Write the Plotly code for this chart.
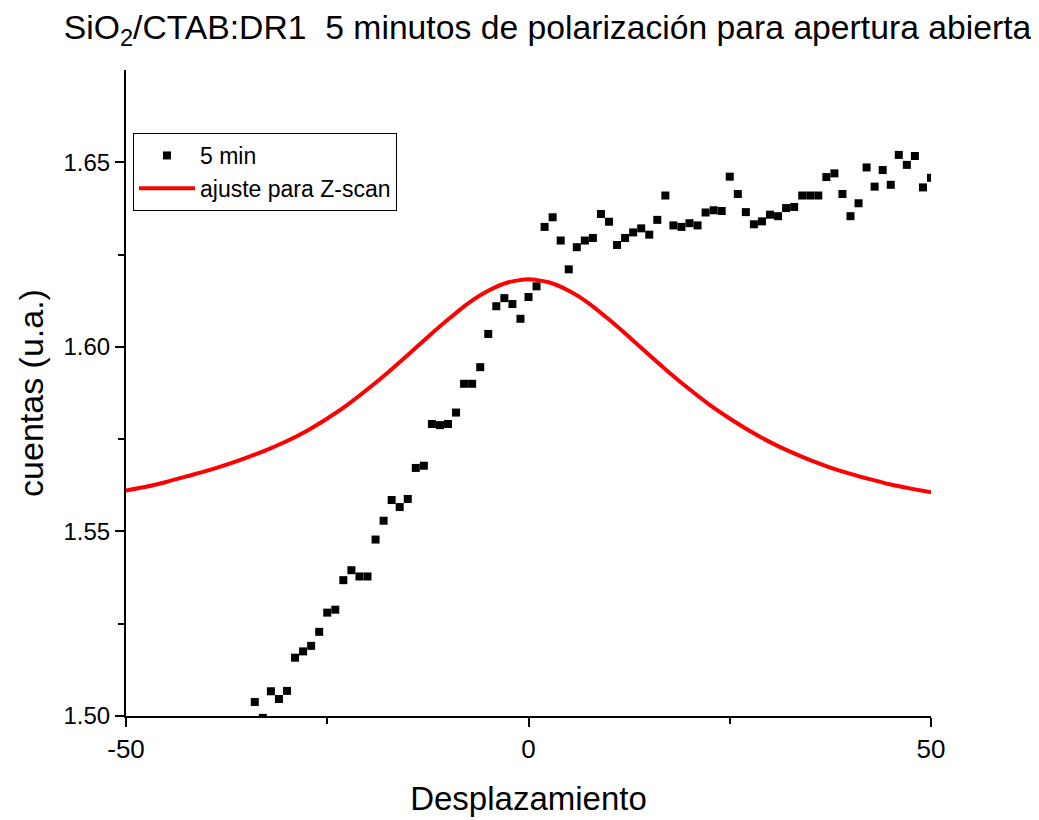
import plotly.graph_objects as go

# Measured data: 5 min
x_data = list(range(-34, 51))
y_data = [
    1.5038, 1.4995, 1.5067, 1.5046, 1.5068, 1.5158, 1.5175, 1.5190, 1.5228, 1.5280,
    1.5288, 1.5368, 1.5395, 1.5378, 1.5378, 1.5478, 1.5529, 1.5585, 1.5566, 1.5588,
    1.5672, 1.5678, 1.5791, 1.5788, 1.5791, 1.5822, 1.5900, 1.5900, 1.5945, 1.6035,
    1.6110, 1.6132, 1.6116, 1.6076, 1.6135, 1.6164, 1.6325, 1.6351, 1.6288, 1.6210,
    1.6270, 1.6288, 1.6295, 1.6360, 1.6339, 1.6276, 1.6295, 1.6310, 1.6321, 1.6304,
    1.6344, 1.6410, 1.6329, 1.6325, 1.6335, 1.6329, 1.6364, 1.6370, 1.6368, 1.6461,
    1.6414, 1.6365, 1.6332, 1.6340, 1.6358, 1.6354, 1.6376, 1.6379, 1.6410, 1.6410,
    1.6410, 1.6460, 1.6470, 1.6414, 1.6354, 1.6389, 1.6486, 1.6434, 1.6479, 1.6439,
    1.6520, 1.6493, 1.6517, 1.6432, 1.6458,
]

# Fit curve
x_fit = [-50, -47.5, -45, -42.5, -40, -37.5, -35, -32.5, -30, -27.5, -25, -22.5, -20,
         -17.5, -15, -12.5, -10, -7.5, -5, -2.5, 0, 2.5, 5, 7.5, 10, 12.5, 15, 17.5,
         20, 22.5, 25, 27.5, 30, 32.5, 35, 37.5, 40, 42.5, 45, 47.5, 50]
y_fit = [1.5611, 1.5621, 1.5634, 1.5649, 1.5664, 1.5681, 1.5700, 1.5721, 1.5745, 1.5773,
         1.5806, 1.5843, 1.5885, 1.5930, 1.5978, 1.6027, 1.6074, 1.6118, 1.6152, 1.6175,
         1.6183, 1.6175, 1.6152, 1.6118, 1.6074, 1.6027, 1.5978, 1.5930, 1.5885, 1.5843,
         1.5806, 1.5772, 1.5742, 1.5716, 1.5693, 1.5673, 1.5656, 1.5641, 1.5627, 1.5616,
         1.5606]

x_ticks = [-50, 0, 50]
y_ticks = [1.50, 1.55, 1.60, 1.65]

font_family = "Liberation Sans, Arial, sans-serif"

fig = go.Figure()
fig.add_trace(go.Scatter(
    x=x_data, y=y_data, mode="markers", name="5 min",
    marker=dict(symbol="square", size=8, color="black", line=dict(width=0)),
    cliponaxis=True,
))
fig.add_trace(go.Scatter(
    x=x_fit, y=y_fit, mode="lines", name="ajuste para Z-scan",
    line=dict(color="#ff0000", width=4, shape="spline", smoothing=0.6),
))

W, H = 1039, 820
L, T = 118, 62
pw, ph = 805, 646
R, B = W - L - pw, H - T - ph

fig.update_layout(
    width=W, height=H,
    paper_bgcolor="white", plot_bgcolor="white",
    margin=dict(l=L, r=R, t=T, b=B, autoexpand=False),
    font=dict(family=font_family, color="black"),
    title=dict(
        text="SiO<sub>2</sub>/CTAB:DR1  5 minutos de polarización para apertura abierta",
        x=539.5 / W, xref="container", xanchor="center",
        y=1 - 19 / H, yref="container", yanchor="middle",
        font=dict(size=33.7, family=font_family, color="black"),
    ),
    showlegend=True,
    legend=dict(
        x=(125 - L) / pw, xref="paper", xanchor="left",
        y=(T + ph - 125) / ph, yref="paper", yanchor="top",
        bgcolor="white", bordercolor="black", borderwidth=1,
        font=dict(size=23, family=font_family, color="black"),
        tracegroupgap=0, itemwidth=56,
    ),
)

fig.update_xaxes(
    range=[-50, 50], tickvals=x_ticks, ticktext=[str(v) for v in x_ticks],
    showgrid=False, zeroline=False, automargin=False,
    showline=True, linecolor="black", linewidth=2, mirror=False,
    ticks="outside", ticklen=9, tickwidth=2, tickcolor="black",
    tickfont=dict(size=26, family=font_family, color="black"),
    minor=dict(tickvals=[-25, 25], ticks="outside", ticklen=6, tickwidth=2, tickcolor="black"),
    title=dict(text="Desplazamiento", font=dict(size=33, family=font_family, color="black"), standoff=24),
)
fig.update_yaxes(
    range=[1.50, 1.675], tickvals=y_ticks, ticktext=["%.2f" % v for v in y_ticks],
    showgrid=False, zeroline=False, automargin=False,
    showline=True, linecolor="black", linewidth=2, mirror=False,
    ticks="outside", ticklen=9, tickwidth=2, tickcolor="black",
    tickfont=dict(size=24, family=font_family, color="black"),
    minor=dict(tickvals=[1.525, 1.575, 1.625], ticks="outside", ticklen=6, tickwidth=2, tickcolor="black"),
    title=dict(text="cuentas (u.a.)", font=dict(size=34, family=font_family, color="black"), standoff=10),
)

fig.write_html("out.html")
